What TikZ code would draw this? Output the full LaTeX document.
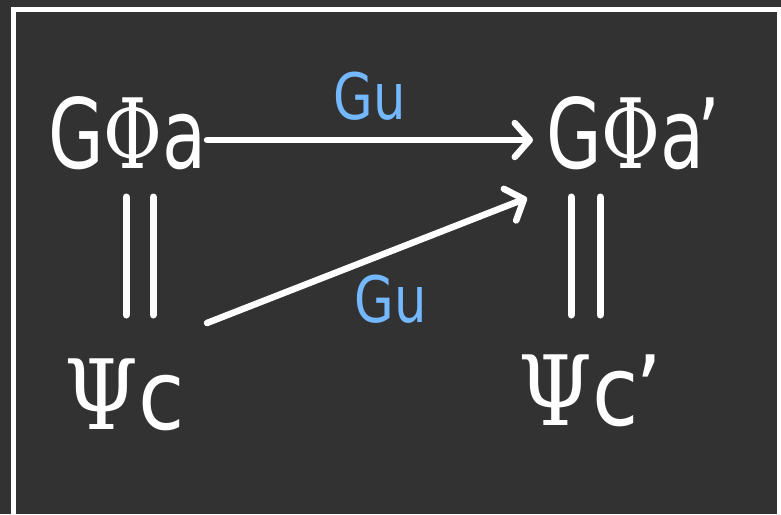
\documentclass[tikz,border=0pt]{standalone}
\usepackage{fontspec}
\newfontfamily\handfont{DejaVu Sans}
\newfontfamily\greekfont{DejaVu Serif}
\usetikzlibrary{arrows.meta}
\definecolor{boardbg}{RGB}{50,50,50}
\definecolor{labelblue}{RGB}{116,184,255}
% horizontally condensed text, to keep the glyphs narrow and tall
\newcommand{\narrowtxt}[2][0.74]{\scalebox{#1}[1]{#2}}
% capital Greek letters with bars at top and bottom
\newcommand{\gk}[1]{{\greekfont #1}}

\begin{document}
\begin{tikzpicture}[x=1pt,y=-1pt,
  obj/.style={inner sep=0pt, anchor=base west, text=white,
    font=\handfont\fontsize{97}{97}\selectfont},
  lbl/.style={inner sep=0pt, anchor=base, text=labelblue,
    font=\handfont\fontsize{64}{64}\selectfont},
  mapline/.style={draw=white, line width=6.5pt, line cap=round,
    -{Straight Barb[length=15pt,width=34pt,round]}},
  eqline/.style={draw=white, line width=7pt, line cap=round}]

  % board
  \clip (0,0) rectangle (781,514);
  \useasboundingbox (0,0) rectangle (781,514);
  \fill[boardbg] (0,0) rectangle (781,514);
  \draw[white, line width=5pt] (13.5,9.5) rectangle (779.5,560);

  % objects
  \node[obj] (A) at (48,168) {\narrowtxt{G\gk{Φ}a}};
  \node[obj] (B) at (546,168) {\narrowtxt{G\gk{Φ}a\kern-10pt’}};
  \node[obj] (C) at (64,429) {\narrowtxt[0.87]{\gk{Ψ}c}};
  \node[obj] (D) at (518,425) {\narrowtxt[0.87]{\gk{Ψ}c\kern-4pt’}};

  % morphisms
  \draw[mapline] ([shift={(159,-28)}]A.base west) -- ([shift={(-13,-28)}]B.base west);
  \draw[mapline] ([shift={(143,-106)}]C.base west) -- ([shift={(-19,30)}]B.base west);

  % equalities
  \draw[eqline] ([shift={(78,29)}]A.base west) -- ([shift={(62,-114)}]C.base west);
  \draw[eqline] ([shift={(105,29)}]A.base west) -- ([shift={(89,-114)}]C.base west);
  \draw[eqline] ([shift={(25,29)}]B.base west) -- ([shift={(53,-110)}]D.base west);
  \draw[eqline] ([shift={(54,29)}]B.base west) -- ([shift={(82,-110)}]D.base west);

  % labels
  \node[lbl] (L1) at (369.5,119) {\narrowtxt[0.8]{Gu}};
  \node[lbl] (L2) at (391,322) {\narrowtxt[0.8]{Gu}};
\end{tikzpicture}
\end{document}
